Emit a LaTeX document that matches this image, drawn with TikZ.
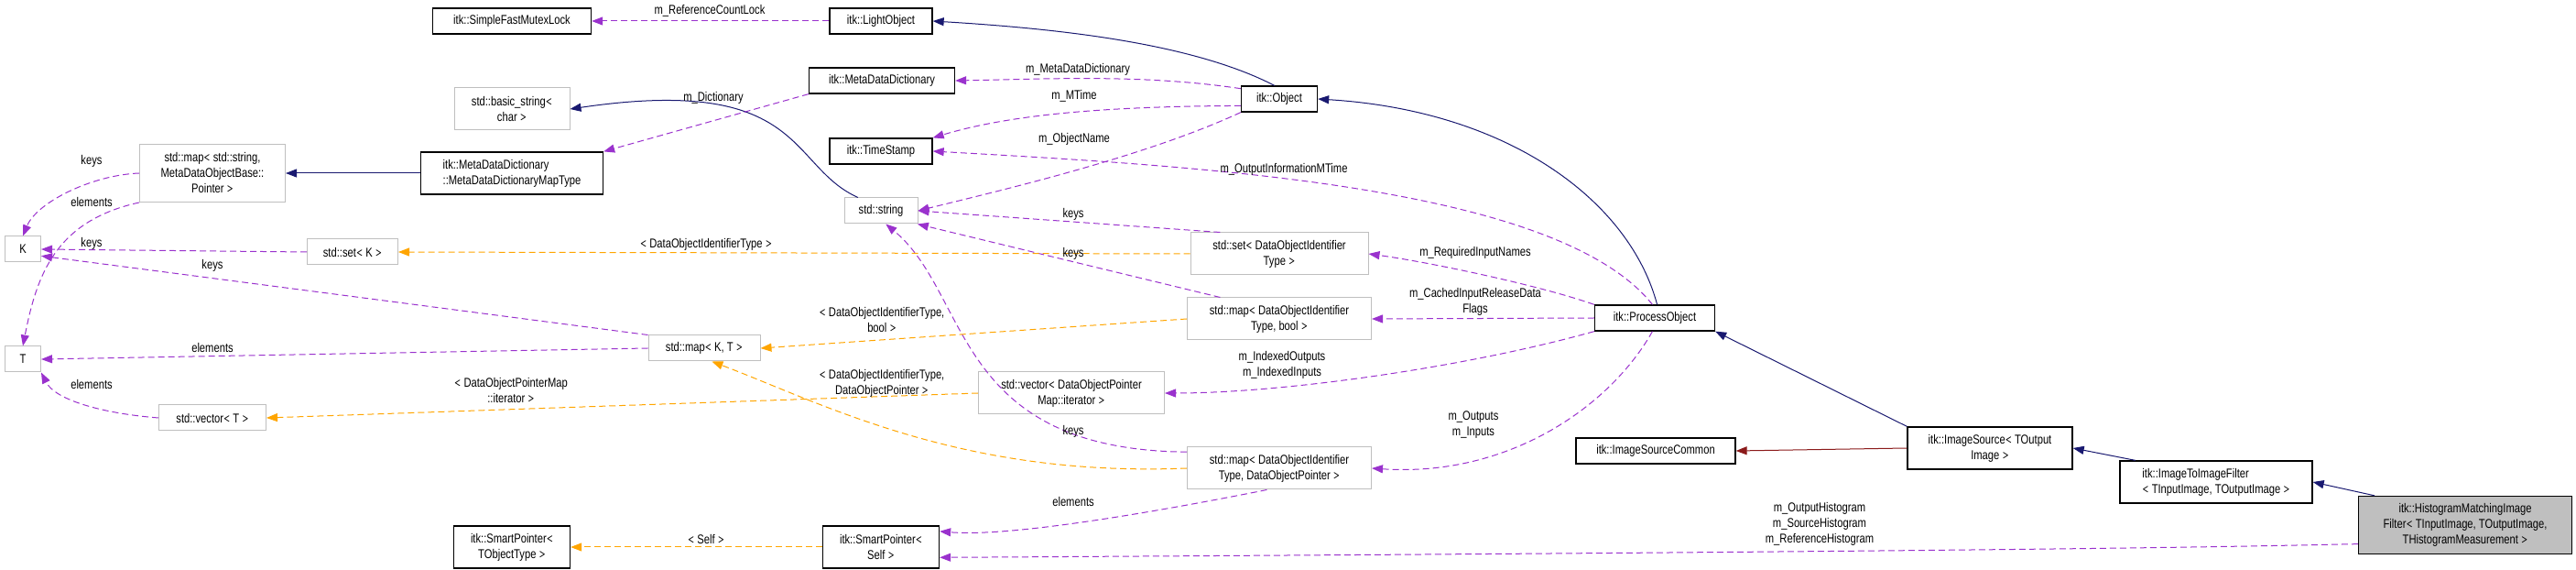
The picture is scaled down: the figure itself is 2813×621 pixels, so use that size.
\documentclass[tikz,border=0pt]{standalone}
\usepackage{fontspec}
\setmainfont{Liberation Sans}[FakeStretch=0.8]
\usetikzlibrary{arrows.meta}
\definecolor{usecol}{HTML}{9A32CD}
\definecolor{tplcol}{HTML}{FFA500}
\definecolor{inhcol}{HTML}{191970}
\definecolor{privcol}{HTML}{8B1A1A}
\begin{document}
\begin{tikzpicture}[x=1pt, y=1pt, font=\fontsize{14}{17}\selectfont,
    cls/.style={draw=black, line width=1.3pt, fill=white, align=center, minimum height=28, inner sep=3pt},
    ext/.style={draw=black!25, line width=1pt, fill=white, align=center, minimum height=28, inner sep=3pt},
    use/.style={draw=usecol, dash pattern=on 7pt off 4pt, line width=1pt, -{Triangle[length=12pt,width=9pt]}},
    tpl/.style={draw=tplcol, dash pattern=on 7pt off 4pt, line width=1pt, -{Triangle[length=12pt,width=9pt]}},
    inh/.style={draw=inhcol, line width=1pt, -{Triangle[length=12pt,width=9pt]}},
    priv/.style={draw=privcol, line width=1pt, -{Triangle[length=12pt,width=9pt]}},
    lbl/.style={align=center, inner sep=0pt}]
    \useasboundingbox (0,0) rectangle (2813,621);

    % CLASSES
    \node[cls, minimum width=173] (mutex) at (559,598) {itk::SimpleFastMutexLock};
    \node[cls, minimum width=112] (light) at (962,598) {itk::LightObject};
    \node[cls, minimum width=159] (mdd) at (963,533) {itk::MetaDataDictionary};
    \node[ext, minimum width=126, minimum height=46] (bstr) at (559,502) {std::basic\_string\texttt{<}\\char \texttt{>}};
    \node[cls, minimum width=199, minimum height=46, align=left] (mddmap) at (559,432) {itk::MetaDataDictionary\\::MetaDataDictionaryMapType};
    \node[ext, minimum width=159, minimum height=63] (stdmap) at (232,432) {std::map\texttt{<} std::string,\\MetaDataObjectBase::\\Pointer \texttt{>}};
    \node[ext, minimum width=39] (K) at (25,349) {K};
    \node[ext, minimum width=39] (T) at (25,229) {T};
    \node[ext, minimum width=99] (setK) at (385,346) {std::set\texttt{<} K \texttt{>}};
    \node[ext, minimum width=122] (mapKT) at (769,241) {std::map\texttt{<} K, T \texttt{>}};
    \node[ext, minimum width=117] (vecT) at (232,165) {std::vector\texttt{<} T \texttt{>}};
    \node[cls, minimum width=127, minimum height=46] (spTO) at (559,24) {itk::SmartPointer\texttt{<}\\TObjectType \texttt{>}};
    \node[cls, minimum width=127, minimum height=46] (spSelf) at (962,24) {itk::SmartPointer\texttt{<}\\Self \texttt{>}};
    \node[cls, minimum width=112] (tstamp) at (962,456) {itk::TimeStamp};
    \node[ext, minimum width=80] (str) at (962,391) {std::string};
    \node[cls, minimum width=83] (obj) at (1397,513) {itk::Object};
    \node[ext, minimum width=194, minimum height=46] (setD) at (1397,344) {std::set\texttt{<} DataObjectIdentifier\\Type \texttt{>}};
    \node[ext, minimum width=201, minimum height=46] (mapDb) at (1397,273) {std::map\texttt{<} DataObjectIdentifier\\Type, bool \texttt{>}};
    \node[ext, minimum width=203, minimum height=46] (vecD) at (1170,192) {std::vector\texttt{<} DataObjectPointer\\Map::iterator \texttt{>}};
    \node[ext, minimum width=201, minimum height=46] (mapDP) at (1397,110) {std::map\texttt{<} DataObjectIdentifier\\Type, DataObjectPointer \texttt{>}};
    \node[cls, minimum width=131] (proc) at (1807,274) {itk::ProcessObject};
    \node[cls, minimum width=174] (isc) at (1808,129) {itk::ImageSourceCommon};
    \node[cls, minimum width=180, minimum height=46] (isrc) at (2173,132) {itk::ImageSource\texttt{<} TOutput\\Image \texttt{>}};
    \node[cls, minimum width=210, minimum height=46, align=left] (i2i) at (2420,95) {itk::ImageToImageFilter\\\texttt{<} TInputImage, TOutputImage \texttt{>}};
    \node[cls, fill=black!25, minimum width=233, minimum height=63] (hist) at (2692,48) {itk::HistogramMatchingImage\\Filter\texttt{<} TInputImage, TOutputImage,\\THistogramMeasurement \texttt{>}};

    % INHERITANCE
    \draw[inh] (obj.110) .. controls (1300,575) and (1150,590) .. (light.east);
    \draw[inh] (str.150) .. controls (860,440) and (880,540) .. (bstr.east);
    \draw[inh] (proc.80) .. controls (1780,400) and (1650,500) .. (obj.east);
    \draw[inh] (isrc.north west) -- (proc.south east);
    \draw[inh] (i2i.165) -- (isrc.east);
    \draw[inh] (hist.162) -- (i2i.east);
    \draw[inh] (mddmap.west) -- (stdmap.east);
    \draw[priv] (isrc.west) -- (isc.east);

    % MEMBERS
    \draw[use] (light.west) -- (mutex.east);
    \draw[use] (obj.165) .. controls (1250,540) and (1150,535) .. (mdd.east);
    \draw[use] (obj.190) .. controls (1200,505) and (1100,495) .. (tstamp.north east);
    \draw[use] (obj.south west) .. controls (1250,450) and (1100,415) .. (str.east);
    \draw[use] (mdd.south west) -- (mddmap.north east);
    \draw[use] (stdmap.west) .. controls (100,430) and (40,400) .. (K.north);
    \draw[use] (stdmap.south west) .. controls (60,380) and (40,320) .. (T.north);
    \draw[use] (setK.west) -- (K.east);
    \draw[use] (mapKT.north west) -- (K.-20);
    \draw[use] (mapKT.west) -- (T.east);
    \draw[use] (vecT.west) .. controls (110,170) and (60,185) .. (T.south east);
    \draw[use] (setD.160) -- (str.east);
    \draw[use] (mapDb.160) -- (str.-20);
    \draw[use] (mapDP.170) .. controls (1040,130) and (1060,300) .. (str.-70);
    \draw[use] (mapDP.-120) .. controls (1250,60) and (1100,35) .. (spSelf.15);
    \draw[use] (proc.100) .. controls (1700,420) and (1300,440) .. (tstamp.east);
    \draw[use] (proc.north west) .. controls (1680,310) and (1560,335) .. (setD.east);
    \draw[use] (proc.west) -- (mapDb.east);
    \draw[use] (proc.south west) .. controls (1600,220) and (1400,192) .. (vecD.east);
    \draw[use] (proc.-100) .. controls (1760,180) and (1650,100) .. (mapDP.east);
    \draw[use] (hist.190) .. controls (2450,25) and (2300,20) .. (spSelf.-10);

    % TEMPLATES
    \draw[tpl] (setD.west) -- (setK.east);
    \draw[tpl] (mapDb.west) -- (mapKT.east);
    \draw[tpl] (vecD.west) -- (vecT.east);
    \draw[tpl] (mapDP.west) .. controls (1050,100) and (900,180) .. (mapKT.-60);
    \draw[tpl] (spSelf.west) -- (spTO.east);

    % LABELS
    \node[lbl] (lRef) at (775,609) {m\_ReferenceCountLock};
    \node[lbl] (lMdd) at (1177,545) {m\_MetaDataDictionary};
    \node[lbl] (lMTime) at (1173,516) {m\_MTime};
    \node[lbl] (lName) at (1173,469) {m\_ObjectName};
    \node[lbl] (lDict) at (779,514) {m\_Dictionary};
    \node[lbl] (lKeysA) at (100,445) {keys};
    \node[lbl] (lElemA) at (100,400) {elements};
    \node[lbl] (lKeysB) at (100,355) {keys};
    \node[lbl] (lKeysC) at (232,331) {keys};
    \node[lbl] (lElemB) at (232,242) {elements};
    \node[lbl] (lElemC) at (100,202) {elements};
    \node[lbl] (lSetTpl) at (771,354) {\texttt{<} DataObjectIdentifierType \texttt{>}};
    \node[lbl] (lKeysD) at (1172,387) {keys};
    \node[lbl] (lKeysE) at (1172,344) {keys};
    \node[lbl] (lMapTplA) at (963,272) {\texttt{<} DataObjectIdentifierType,\\bool \texttt{>}};
    \node[lbl] (lMapTplB) at (963,203) {\texttt{<} DataObjectIdentifierType,\\DataObjectPointer \texttt{>}};
    \node[lbl] (lVecTpl) at (558,195) {\texttt{<} DataObjectPointerMap\\::iterator \texttt{>}};
    \node[lbl] (lOutInfo) at (1402,436) {m\_OutputInformationMTime};
    \node[lbl] (lReq) at (1611,345) {m\_RequiredInputNames};
    \node[lbl] (lCached) at (1611,292) {m\_CachedInputReleaseData\\Flags};
    \node[lbl] (lIndexed) at (1400,223) {m\_IndexedOutputs\\m\_IndexedInputs};
    \node[lbl] (lKeysF) at (1172,150) {keys};
    \node[lbl] (lElemD) at (1172,74) {elements};
    \node[lbl] (lOutputs) at (1609,157) {m\_Outputs\\m\_Inputs};
    \node[lbl] (lSelf) at (771,33) {\texttt{<} Self \texttt{>}};
    \node[lbl] (lHist) at (1987,49) {m\_OutputHistogram\\m\_SourceHistogram\\m\_ReferenceHistogram};
\end{tikzpicture}
\end{document}
